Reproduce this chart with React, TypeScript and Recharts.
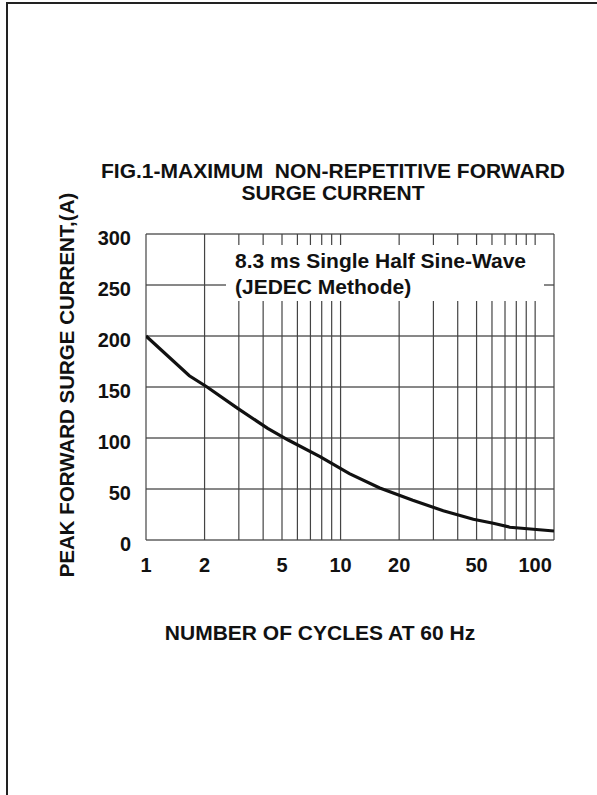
import { LineChart, Line, XAxis, YAxis, CartesianGrid, ReferenceLine } from 'recharts';

// number of cycles (log axis) and peak surge current
const cycles = [1, 1.67, 2.06, 2.96, 4.22, 5.38, 7.84, 11.1, 15.9, 23.5, 33.7, 48.1, 60.9, 74.2, 125];
const surgeCurrent = [200, 161, 150, 129, 109.5, 98, 81.7, 65, 51, 39, 28.7, 20.3, 16.4, 12.5, 8.8];

const xTicks = [1, 2, 5, 10, 20, 50, 100];
const yTicks = [0, 50, 100, 150, 200, 250, 300];
const xGrid = [1, 2, 3, 4, 5, 6, 7, 8, 9, 10, 20, 30, 40, 50, 60, 70, 80, 90, 100, 125];

const data = cycles.map((c, i) => ({ cycles: c, current: surgeCurrent[i] }));

const FONT = '"Liberation Sans", Arial, Helvetica, sans-serif';

function XTick({ x, y, payload }: any) {
  return (
    <text x={x} y={y + 32} textAnchor="middle" fontFamily={FONT} fontWeight="bold" fontSize={20} fill="#111">
      {payload.value}
    </text>
  );
}

function YTick({ x, y, payload }: any) {
  return (
    <text x={x - 15} y={y + 11} textAnchor="end" fontFamily={FONT} fontWeight="bold" fontSize={20} fill="#111">
      {payload.value}
    </text>
  );
}

export default function App() {
  return (
    <div style={{ position: 'absolute', left: 0, top: 0, width: 597, height: 795, background: '#fff', overflow: 'hidden', fontFamily: FONT, color: '#111' }}>
      <div style={{ position: 'absolute', left: 6, top: 2, width: 620, height: 820, borderLeft: '2px solid #222', borderTop: '2px solid #222' }} />
      <div style={{ position: 'absolute', left: 0, width: 666, top: 160, textAlign: 'center', fontWeight: 'bold', fontSize: 21, lineHeight: '22px', whiteSpace: 'pre' }}>
        {'FIG.1-MAXIMUM  NON-REPETITIVE FORWARD\nSURGE CURRENT'}
      </div>
      <div style={{ position: 'absolute', left: 0, top: 0 }}>
        <LineChart width={597} height={795} data={data} margin={{ top: 234, right: 43, bottom: 215, left: 96 }}>
          <CartesianGrid vertical={false} stroke="#111" strokeWidth={1} />
          {xGrid.map((g) => (
            <ReferenceLine key={g} x={g} stroke="#444" strokeWidth={1.2} />
          ))}
          <XAxis
            dataKey="cycles"
            type="number"
            scale="log"
            domain={[1, 125]}
            ticks={xTicks}
            allowDataOverflow
            axisLine={false}
            tickLine={false}
            tickSize={0}
            tickMargin={0}
            height={40}
            interval={0}
            tick={<XTick />}
          />
          <YAxis
            type="number"
            domain={[0, 300]}
            ticks={yTicks}
            axisLine={false}
            tickLine={false}
            tickSize={0}
            tickMargin={0}
            width={50}
            interval={0}
            tick={<YTick />}
          />
          <Line type="linear" dataKey="current" stroke="#111" strokeWidth={3.2} dot={false} isAnimationActive={false} />
        </LineChart>
      </div>
      <div style={{ position: 'absolute', left: 226, top: 245, width: 318, height: 56, background: '#fff', fontWeight: 'bold', fontSize: 21, lineHeight: '26px', paddingLeft: 9, boxSizing: 'border-box', paddingTop: 3, whiteSpace: 'pre' }}>
        {'8.3 ms Single Half Sine-Wave\n(JEDEC Methode)'}
      </div>
      <div style={{ position: 'absolute', left: 67 - 200, top: 385 - 12, width: 400, height: 24, lineHeight: '24px', textAlign: 'center', transform: 'rotate(-90deg)', fontWeight: 'bold', fontSize: 20.5, whiteSpace: 'nowrap' }}>
        PEAK FORWARD SURGE CURRENT,(A)
      </div>
      <div style={{ position: 'absolute', left: 120, width: 400, top: 621, lineHeight: '24px', textAlign: 'center', fontWeight: 'bold', fontSize: 21, whiteSpace: 'nowrap' }}>
        NUMBER OF CYCLES AT 60 Hz
      </div>
    </div>
  );
}
